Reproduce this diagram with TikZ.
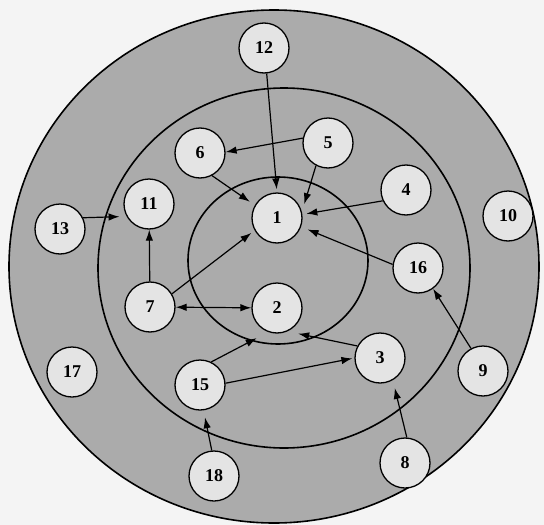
\documentclass[tikz,border=0pt]{standalone}
\usepackage{fontspec}
\setmainfont{Liberation Serif}
\usepackage{tikz}
\usetikzlibrary{arrows.meta}
\definecolor{paper}{HTML}{F4F4F4}
\definecolor{disk}{HTML}{ABABAB}
\definecolor{ballgray}{HTML}{E4E4E4}
\tikzset{ball/.style={circle, draw, line width=1.3pt, fill=ballgray, minimum size=50pt, inner sep=0pt, font=\fontsize{18}{18}\selectfont\bfseries}}
\tikzset{arr/.style={->, line width=1.2pt, shorten >=#1}, arr/.default=0pt}

\begin{document}
\begin{tikzpicture}[x=1pt, y=-1pt, >={Latex[length=11pt,width=7.5pt]}]
\fill[paper] (0,0) rectangle (544,525);
\useasboundingbox (0,0) rectangle (544,525);
% rings
\draw[line width=1.6pt, fill=disk] (274,266.5) ellipse [x radius=265pt, y radius=256.5pt];
\draw[line width=1.6pt] (284,268) ellipse [x radius=186pt, y radius=180pt];
\draw[line width=1.6pt] (278,260.5) ellipse [x radius=90pt, y radius=83.5pt];
% inner ring
\node[ball] (n1) at (277,218) {1};
\node[ball] (n2) at (277,308) {2};
% middle ring
\node[ball] (n3) at (380,358) {3};
\node[ball] (n4) at (406,190) {4};
\node[ball] (n5) at (328,143) {5};
\node[ball] (n6) at (200,153) {6};
\node[ball] (n7) at (150,307) {7};
\node[ball] (n11) at (149,204) {11};
\node[ball] (n15) at (200,385) {15};
\node[ball] (n16) at (418,268) {16};
% outer ring
\node[ball] (n8) at (405,463) {8};
\node[ball] (n9) at (483,371) {9};
\node[ball] (n10) at (508,216) {10};
\node[ball] (n12) at (264,48) {12};
\node[ball] (n13) at (60,229) {13};
\node[ball] (n17) at (72,372) {17};
\node[ball] (n18) at (214,476) {18};
% links into 1
\draw[arr=3pt] (n12.-84) -- (n1.90);
\draw[arr=8pt] (n5.242) -- (n1.14);
\draw[arr=6pt] (n6.-62) -- (n1.150);
\draw[arr=4pt] (n4.205) -- (n1.8);
\draw[arr=7pt] (n16.172) -- (n1.-20);
\draw[arr=4pt] (n7.31) -- (n1.209);
% links into 2
\draw[<->, line width=1.2pt] (n7) -- (n2);
\draw[arr=13pt] (n15.64) -- (n2.250);
\draw[arr=11pt] (n3.152) -- (n2.-66);
% the rest
\draw[arr] (n5.169) -- (n6.2);
\draw[arr] (n7) -- (n11);
\draw[arr=7pt] (n13.26) -- (n11.209);
\draw[arr=2pt] (n15.4) -- (n3.180);
\draw[arr] (n9.118) -- (n16.-54);
\draw[arr=8pt] (n8.86) -- (n3.-60);
\draw[arr=7pt] (n18.95) -- (n15.-82);
\end{tikzpicture}
\end{document}
